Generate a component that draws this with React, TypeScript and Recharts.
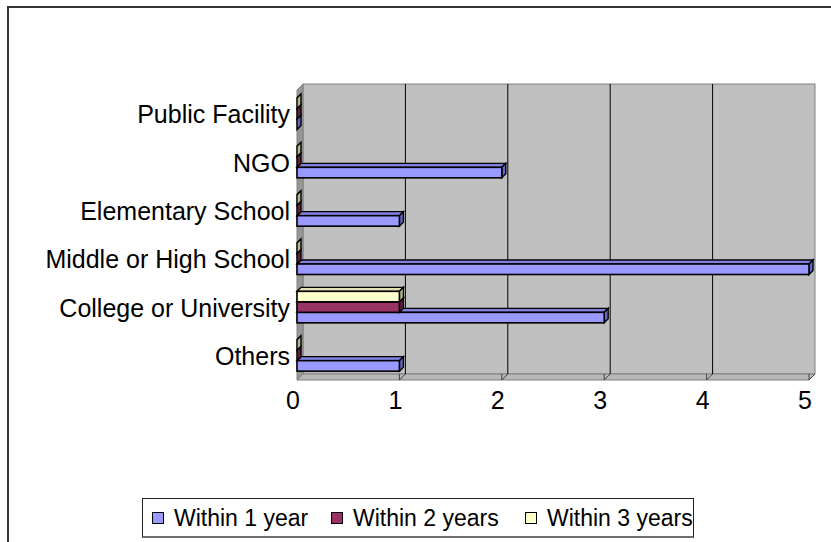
import { BarChart, Bar, XAxis, YAxis, CartesianGrid, Legend } from "recharts";

const categories = [
  "Public Facility",
  "NGO",
  "Elementary School",
  "Middle or High School",
  "College or University",
  "Others",
];
const within1Year = [0, 2, 1, 5, 3, 1];
const within2Years = [0, 0, 0, 0, 1, 0];
const within3Years = [0, 0, 0, 0, 1, 0];
const xTicks = [0, 1, 2, 3, 4, 5];
const seriesNames = ["Within 1 year", "Within 2 years", "Within 3 years"];

const data = categories.map((name, i) => ({
  name,
  w1: within1Year[i],
  w2: within2Years[i],
  w3: within3Years[i],
}));

const FONT = '"Liberation Sans", Arial, sans-serif';
const WALL = 6; // depth of the 3d walls
const DEPTH = 4; // depth of each bar

const series = [
  { key: "w1", front: "#9999ff", top: "#8080e0", side: "#6666c0" },
  { key: "w2", front: "#993366", top: "#802b55", side: "#661f44" },
  { key: "w3", front: "#ffffcc", top: "#e0e0b0", side: "#b8b890" },
];

// first series sits at the bottom of each group, drawn first so the upper bars cover its top face
function bar3d(idx: number, front: string, top: string, side: string) {
  return (p: any) => {
    const h = p.height;
    const x = p.x;
    const y = p.y + (2 - 2 * idx) * h;
    const w = Math.max(p.width || 0, 0);
    const d = DEPTH;
    return (
      <g>
        <polygon
          points={`${x},${y} ${x + d},${y - d} ${x + w + d},${y - d} ${x + w},${y}`}
          fill={top}
          stroke="#000"
          strokeWidth={1.4}
        />
        <polygon
          points={`${x + w},${y} ${x + w + d},${y - d} ${x + w + d},${y + h - d} ${x + w},${y + h}`}
          fill={side}
          stroke="#000"
          strokeWidth={1.4}
        />
        {w > 0 && (
          <rect x={x} y={y} width={w} height={h} fill={front} stroke="#000" strokeWidth={1.6} />
        )}
      </g>
    );
  };
}

function box(p: any) {
  const left = p.x ?? p.offset?.left;
  const top = p.y ?? p.offset?.top;
  const width = p.width ?? p.offset?.width;
  const height = p.height ?? p.offset?.height;
  return { left, top, width, height, bottom: top + height };
}

function wallLine(p: any) {
  const { left, top, width, height, bottom } = box(p);
  if (Math.abs(p.x1 - left) > 1) return <g />;
  return (
    <g>
      <rect x={left + WALL} y={top - WALL} width={width} height={height} fill="#c0c0c0" stroke="#808080" />
      <polygon
        points={`${left},${top} ${left + WALL},${top - WALL} ${left + WALL},${bottom - WALL} ${left},${bottom}`}
        fill="#969696"
        stroke="#808080"
      />
      <polygon
        points={`${left},${bottom} ${left + WALL},${bottom - WALL} ${left + width + WALL},${bottom - WALL} ${left + width},${bottom}`}
        fill="#b8b8b8"
        stroke="#808080"
      />
    </g>
  );
}

function gridLine(p: any) {
  const { left, top, width, bottom } = box(p);
  const gx = p.x1;
  const atLeft = Math.abs(gx - left) < 1;
  const atRight = Math.abs(gx - (left + width)) < 1;
  if (atLeft) return <g />;
  return (
    <g>
      {!atRight && (
        <line x1={gx + WALL} y1={top - WALL} x2={gx + WALL} y2={bottom - WALL} stroke="#000" />
      )}
      <line x1={gx} y1={bottom} x2={gx + WALL} y2={bottom - WALL} stroke="#404040" />
      <line x1={gx} y1={bottom - WALL} x2={gx} y2={bottom} stroke="#404040" />
    </g>
  );
}

const YTick = (p: any) => (
  <text x={p.x} y={p.y} dy={9} textAnchor="end" fontSize={25} fontFamily={FONT} fill="#000">
    {p.payload.value}
  </text>
);

const XTick = (p: any) => (
  <text x={p.x - 4} y={p.y} dy={18} textAnchor="middle" fontSize={25} fontFamily={FONT} fill="#000">
    {p.payload.value}
  </text>
);

const itemLeft = [9, 188, 382];

const renderLegend = () => (
  <div
    style={{
      position: "relative",
      width: 552,
      height: 40,
      boxSizing: "border-box",
      border: "1px solid #222",
      borderBottom: "2px solid #707070",
      fontFamily: FONT,
      fontSize: 23,
      color: "#000",
    }}
  >
    {seriesNames.map((n, i) => (
      <div
        key={n}
        style={{
          position: "absolute",
          left: itemLeft[i],
          top: 0,
          height: 38,
          display: "flex",
          alignItems: "center",
          whiteSpace: "nowrap",
        }}
      >
        <span
          style={{
            display: "inline-block",
            width: 10,
            height: 10,
            background: series[i].front,
            border: "1px solid #000",
            marginRight: 10,
          }}
        />
        <span>{n}</span>
      </div>
    ))}
  </div>
);

export default function App() {
  return (
    <div
      style={{
        position: "fixed",
        left: 0,
        top: 0,
        width: 831,
        height: 542,
        overflow: "hidden",
        background: "#fff",
        fontFamily: FONT,
      }}
    >
      <div
        style={{
          position: "absolute",
          left: 7,
          top: 6,
          width: 900,
          height: 600,
          borderLeft: "2px solid #333",
          borderTop: "2px solid #333",
        }}
      />
      <div style={{ position: "absolute", left: 0, top: 0 }}>
        <BarChart
          width={831}
          height={542}
          data={data}
          layout="vertical"
          margin={{ top: 90, right: 22, bottom: 122, left: 0 }}
          barGap={0}
          barSize={10.5}
        >
          <CartesianGrid horizontal={false} vertical={wallLine} />
          <CartesianGrid horizontal={false} vertical={gridLine} />
          <XAxis
            type="number"
            domain={[0, 5]}
            ticks={xTicks}
            interval={0}
            axisLine={false}
            tickLine={false}
            tickSize={0}
            tickMargin={11}
            height={40}
            tick={XTick}
          />
          <YAxis
            type="category"
            dataKey="name"
            width={297}
            axisLine={false}
            tickLine={false}
            tickSize={0}
            tickMargin={7}
            interval={0}
            tick={YTick}
          />
          <Legend
            layout="horizontal"
            verticalAlign="middle"
            align="center"
            wrapperStyle={{ left: 142, top: 498, width: 552, height: 40 }}
            content={renderLegend}
          />
          {series.map((s, i) => (
            <Bar
              key={s.key}
              dataKey={s.key}
              name={seriesNames[i]}
              isAnimationActive={false}
              shape={bar3d(i, s.front, s.top, s.side)}
            />
          ))}
        </BarChart>
      </div>
    </div>
  );
}
